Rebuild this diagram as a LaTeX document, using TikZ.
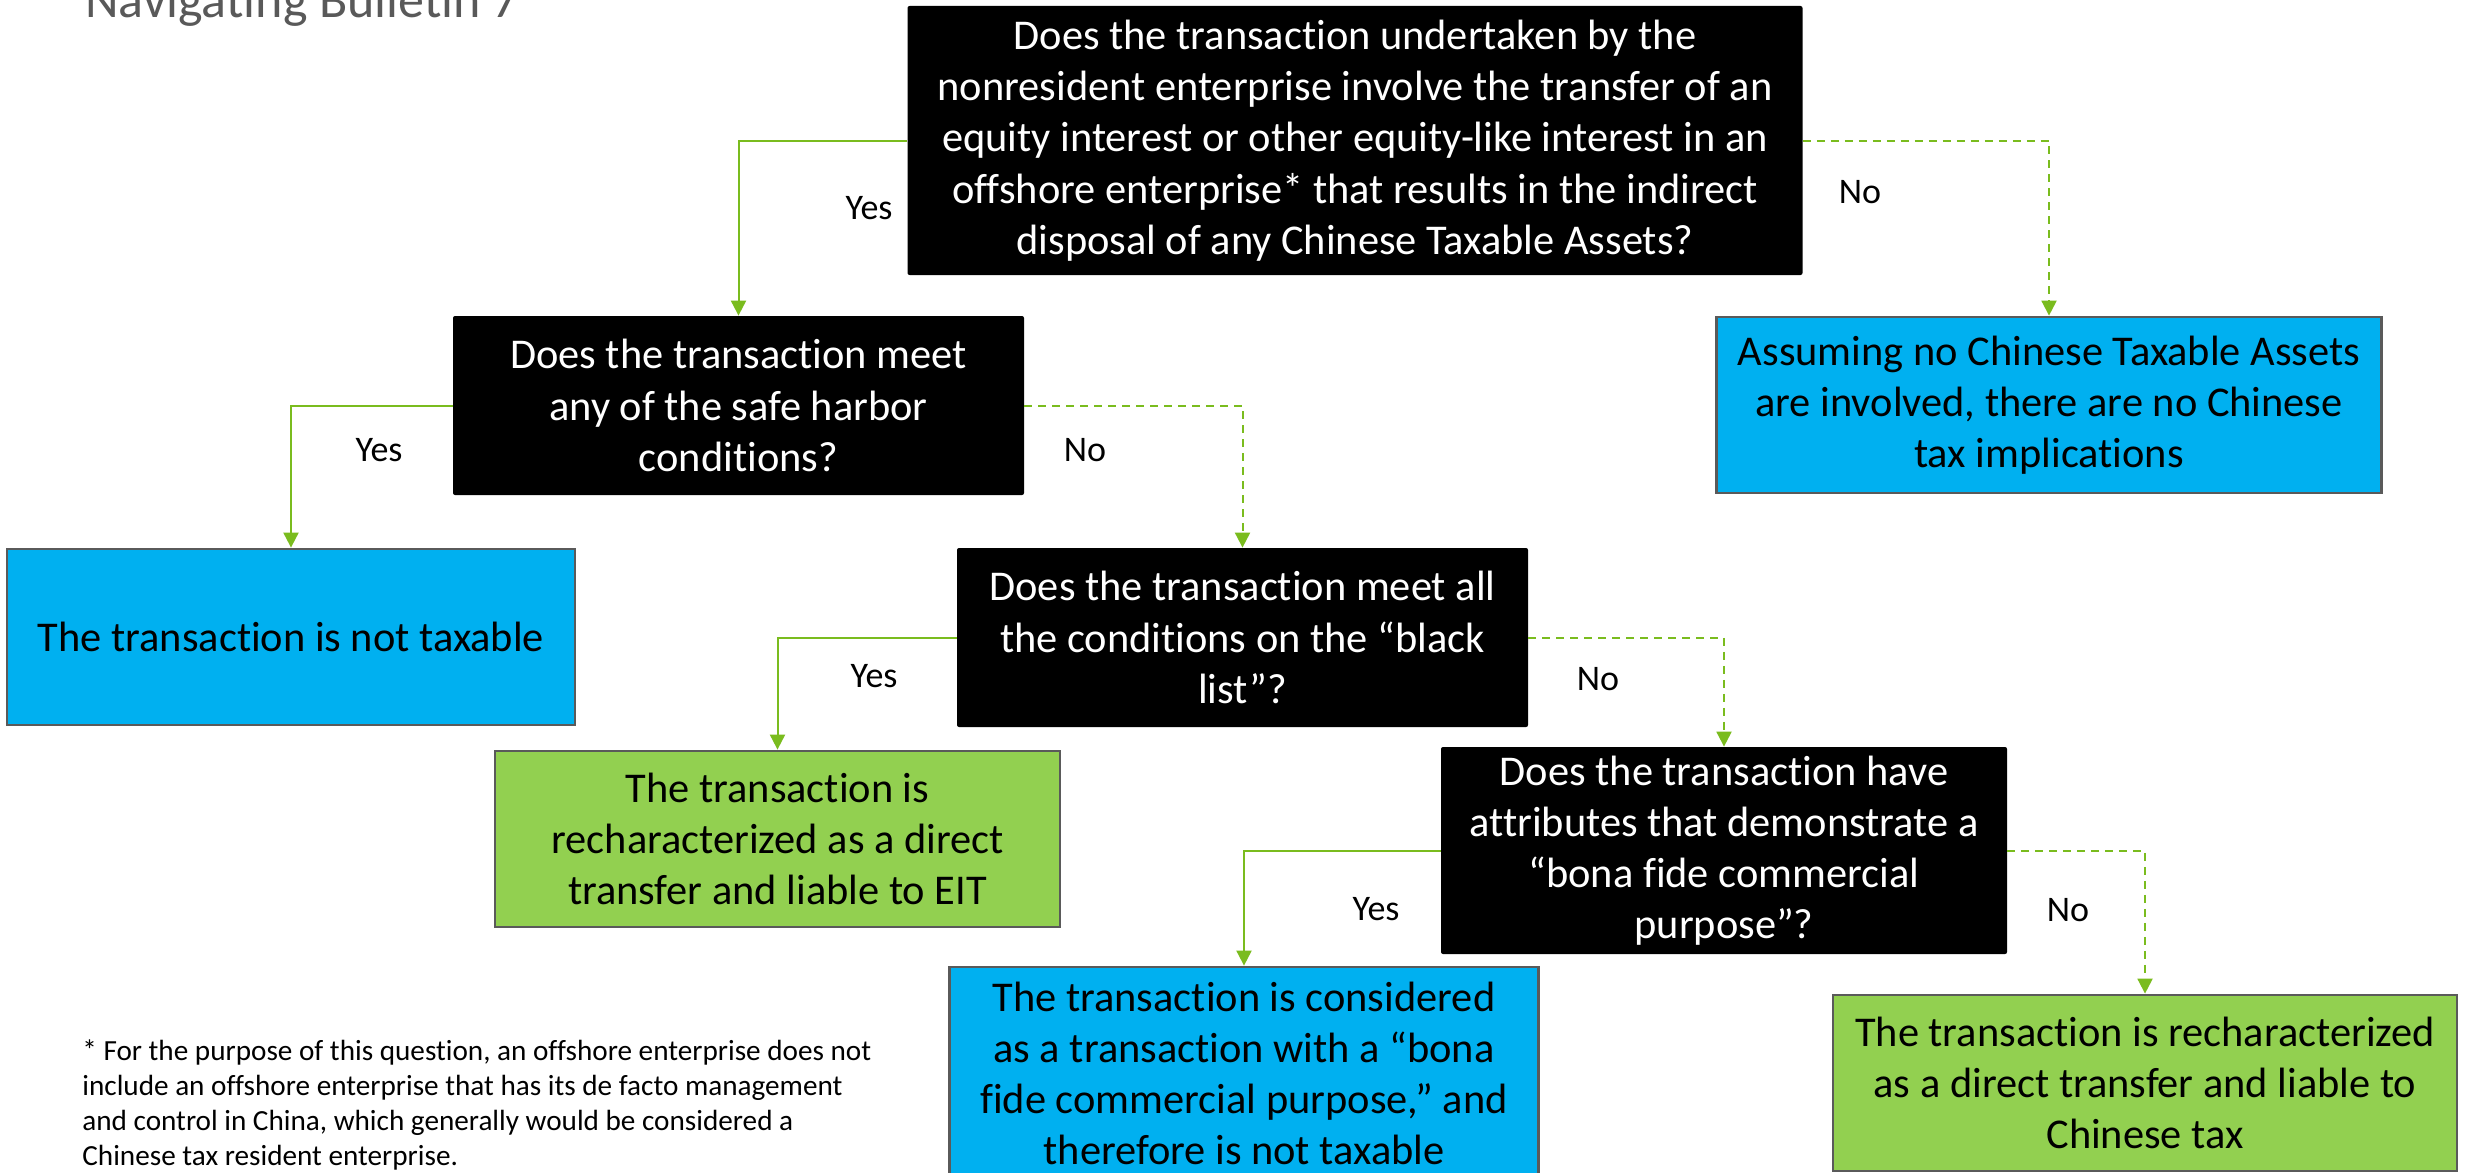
\documentclass[tikz,border=0pt]{standalone}
\usepackage{fontspec}
\setmainfont{Carlito}[Ligatures=NoCommon]
\usetikzlibrary{arrows.meta}
\definecolor{flowgreen}{RGB}{122,188,30}
\definecolor{outblue}{HTML}{00B0F0}
\definecolor{outgreen}{HTML}{92D050}
\definecolor{edgegray}{HTML}{5A5A5A}
\definecolor{titlegray}{HTML}{595959}
\tikzset{
  question/.style={fill=black, text=white, rounded corners=1pt, align=center,
    inner sep=0pt, font=\fontsize{21.2}{25.6}\selectfont},
  outcome/.style={draw=edgegray, line width=1.4pt, text=black, align=center,
    inner sep=0pt, font=\fontsize{21.2}{25.6}\selectfont},
  bluebox/.style={outcome, fill=outblue},
  greenbox/.style={outcome, fill=outgreen},
  yesline/.style={draw=flowgreen, line width=1pt, -{Triangle[length=7.5pt,width=7.5pt]}},
  noline/.style={yesline, dash pattern=on 4pt off 3pt},
  branch/.style={font=\fontsize{18}{21}\selectfont, text=black, inner sep=0pt},
}
\begin{document}
\begin{tikzpicture}[x=0.5pt,y=-0.5pt]
  \clip (0,0) rectangle (2466,1172);
  \fill[white] (0,0) rectangle (2466,1172);

  % heading
  \node[anchor=base west, inner sep=0pt, text=titlegray,
        font=\fontsize{26}{31}\selectfont] (title) at (85,18) {Navigating Bulletin 7};

  % decision boxes
  \node[question, minimum width=447.5pt, minimum height=134.5pt] (q1) at (1355,140.5)
    {Does the transaction undertaken by the\\
     nonresident enterprise involve the transfer of an\\
     equity interest or other equity-like interest in an\\
     offshore enterprise* that results in the indirect\\
     disposal of any Chinese Taxable Assets?};
  \node[question, minimum width=285.5pt, minimum height=89.5pt] (q2) at (738.5,405.5)
    {Does the transaction meet\\ any of the safe harbor\\ conditions?};
  \node[question, minimum width=285.5pt, minimum height=89.5pt] (q3) at (1242.5,637.5)
    {Does the transaction meet all\\ the conditions on the “black\\ list”?};
  \node[question, minimum width=283pt, minimum height=103.5pt] (q4) at (1724,850.5)
    {Does the transaction have\\ attributes that demonstrate a\\
     “bona fide commercial\\ purpose”?};

  % outcome boxes
  \node[bluebox, minimum width=332.5pt, minimum height=88pt] (a1) at (2049,405)
    {Assuming no Chinese Taxable Assets\\ are involved, there are no Chinese\\ tax implications};
  \node[bluebox, minimum width=284pt, minimum height=88pt] (b1) at (291,637)
    {The transaction is not taxable};
  \node[greenbox, minimum width=282.5pt, minimum height=88pt] (g1) at (777.5,839)
    {The transaction is\\ recharacterized as a direct\\ transfer and liable to EIT};
  \node[bluebox, minimum width=294.5pt, minimum height=106.5pt] (b2) at (1244,1073.5)
    {The transaction is considered\\ as a transaction with a “bona\\
     fide commercial purpose,” and\\ therefore is not taxable};
  \node[greenbox, minimum width=312pt, minimum height=88pt] (g2) at (2145,1083)
    {The transaction is recharacterized\\ as a direct transfer and liable to\\ Chinese tax};

  % connectors
  \draw[yesline] (q1.west) -| (q2.north);
  \draw[noline]  (q1.east) -| (a1.north);
  \draw[yesline] (q2.west) -| (b1.north);
  \draw[noline]  (q2.east) -| (q3.north);
  \draw[yesline] (q3.west) -| (g1.north);
  \draw[noline]  (q3.east) -| (q4.north);
  \draw[yesline] (q4.west) -| (b2.north);
  \draw[noline]  (q4.east) -| (g2.north);

  % branch labels
  \node[branch] (y1) at (869,208) {Yes};
  \node[branch] (n1) at (1860,192) {No};
  \node[branch] (y2) at (379,450) {Yes};
  \node[branch] (n2) at (1085,450) {No};
  \node[branch] (y3) at (874,676) {Yes};
  \node[branch] (n3) at (1598,679) {No};
  \node[branch] (y4) at (1376,909) {Yes};
  \node[branch] (n4) at (2068,910) {No};

  % footnote
  \node[anchor=north west, align=left, inner sep=0pt,
        font=\fontsize{14.6}{17.5}\selectfont] (note) at (82,1039)
    {* For the purpose of this question, an offshore enterprise does not\\
     include an offshore enterprise that has its de facto management\\
     and control in China, which generally would be considered a\\
     Chinese tax resident enterprise.};
\end{tikzpicture}
\end{document}
